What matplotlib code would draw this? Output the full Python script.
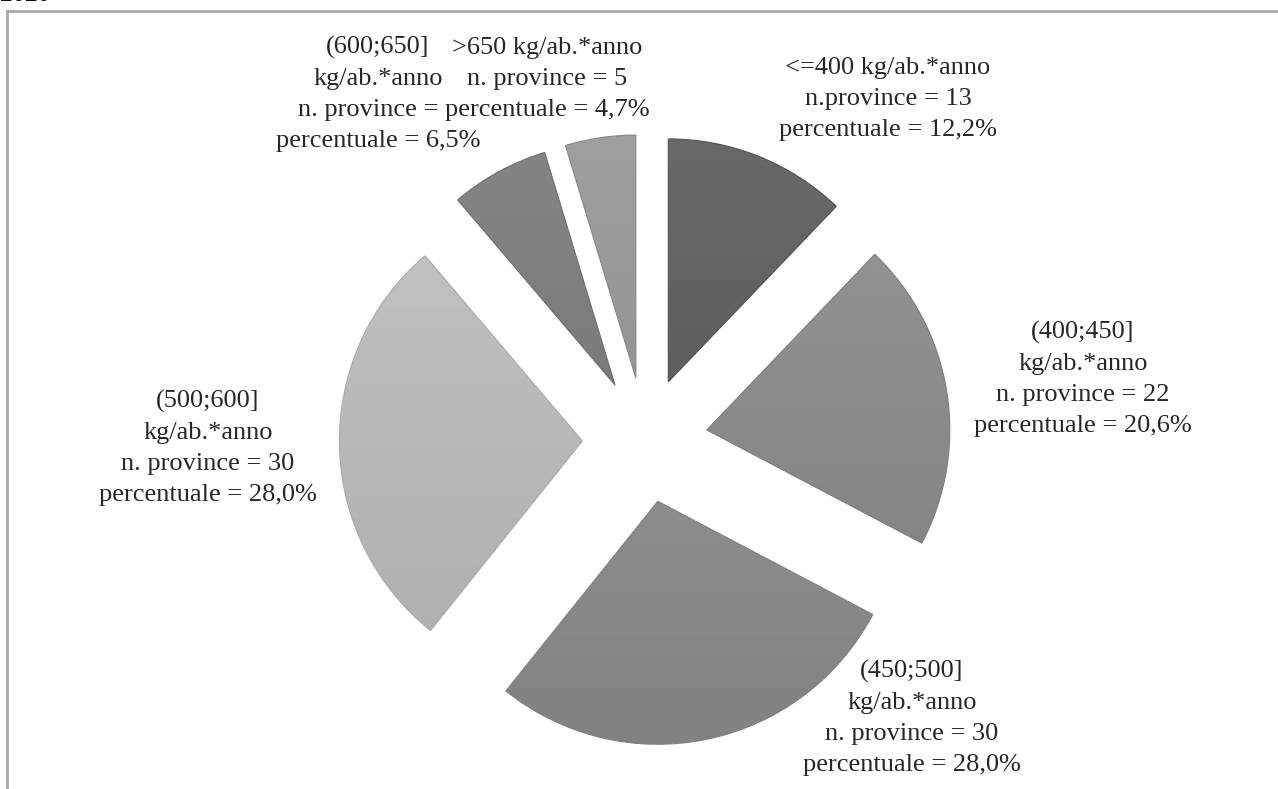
import matplotlib
matplotlib.use("Agg")
import matplotlib.pyplot as plt
import numpy as np
from matplotlib.lines import Line2D

W, H = 1278, 789

categories = ["<=400", "(400;450]", "(450;500]", "(500;600]", "(600;650]", ">650"]
n_province = [13, 22, 30, 30, 7, 5]
percent = ["12,2%", "20,6%", "28,0%", "28,0%", "6,5%", "4,7%"]
labels = [
    "<=400 kg/ab.*anno\nn.province = 13\npercentuale = 12,2%",
    "(400;450]\nkg/ab.*anno\nn. province = 22\npercentuale = 20,6%",
    "(450;500]\nkg/ab.*anno\nn. province = 30\npercentuale = 28,0%",
    "(500;600]\nkg/ab.*anno\nn. province = 30\npercentuale = 28,0%",
    "(600;650]\nkg/ab.*anno\nn. province = 7\npercentuale = 6,5%",
    ">650 kg/ab.*anno\nn. province = 5\npercentuale = 4,7%",
]
grays = [0.37, 0.54, 0.55, 0.72, 0.48, 0.58]

# label centres in image pixels (x, y from top)
label_pos = [(888, 99), (1083, 379), (912, 718), (208, 448), (378, 94), (547, 79)]

fig = plt.figure(figsize=(W / 100, H / 100), dpi=100)
ax = fig.add_axes([0, 0, 1, 1])

wedges, _ = ax.pie(n_province, explode=[62.6] * 6, radius=243, center=(645, H - 440),
                   startangle=90, counterclock=False,
                   colors=[str(g) for g in grays],
                   wedgeprops=dict(edgecolor="none"))

# soft vertical shading inside each slice
for w, g in zip(wedges, grays):
    cx, cy = w.center
    r = w.r
    grad = np.linspace(g + 0.04, g - 0.04, 64).reshape(-1, 1)
    im = ax.imshow(np.clip(grad, 0, 1), cmap="gray", vmin=0, vmax=1,
                   extent=[cx - r, cx + r, cy - r, cy + r], aspect="auto",
                   interpolation="bilinear", zorder=2)
    im.set_clip_path(w)
    w.set_facecolor("none")
    w.set_edgecolor(str(max(g - 0.05, 0)))
    w.set_linewidth(0.8)
    w.set_zorder(3)

for i, (lab, (x, y)) in enumerate(zip(labels, label_pos)):
    # the last label sits on top of its neighbour, as in the original
    box = dict(fc="white", ec="none", pad=0) if i == 5 else None
    ax.text(x, H - y, lab, ha="center", va="center", multialignment="center",
            fontsize=19, family="Liberation Serif", color="#262626",
            linespacing=1.52, zorder=5 + i, bbox=box)

ax.set_xlim(0, W)
ax.set_ylim(0, H)
ax.set_aspect("auto")
ax.axis("off")

# chart frame and clipped heading
fig.add_artist(Line2D([7 / W, 7 / W], [0, 1 - 11 / H], color="#a8a8a8", lw=2))
fig.add_artist(Line2D([7 / W, 1], [1 - 11 / H, 1 - 11 / H], color="#a8a8a8", lw=2))
fig.text(0, 1 - 1 / H, "2020", fontsize=18, family="Liberation Serif",
         fontweight="bold", va="baseline", ha="left")

fig.savefig("out.png", dpi=100)
